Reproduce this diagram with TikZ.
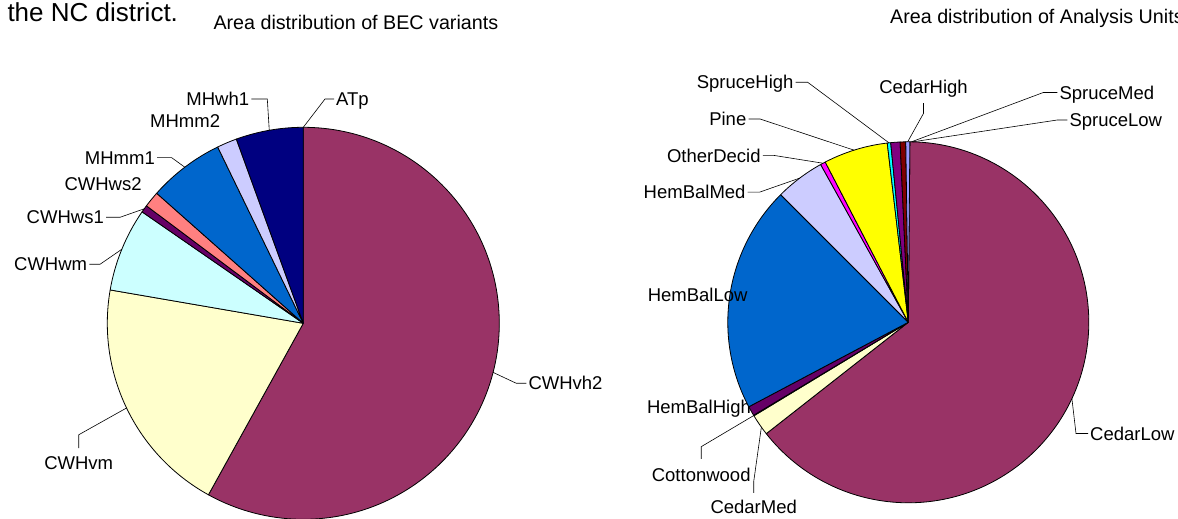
\documentclass[tikz,border=0pt]{standalone}
\usepackage{fontspec}
\setmainfont{Liberation Sans}
\usetikzlibrary{calc}

\definecolor{plum}{HTML}{993366}
\definecolor{paleyellow}{HTML}{FFFFCC}
\definecolor{palecyan}{HTML}{CCFFFF}
\definecolor{darkplum}{HTML}{660066}
\definecolor{salmon}{HTML}{FF8080}
\definecolor{midblue}{HTML}{0066CC}
\definecolor{lavender}{HTML}{CCCCFF}
\definecolor{navy}{HTML}{000080}
\definecolor{pinkish}{HTML}{FF00FF}
\definecolor{brightyellow}{HTML}{FFFF00}
\definecolor{brightcyan}{HTML}{00FFFF}
\definecolor{violet}{HTML}{800080}
\definecolor{deepred}{HTML}{800000}
\definecolor{periwinkle}{HTML}{9999FF}

\newcommand{\rA}{196pt}
\newcommand{\rB}{180.5pt}

\tikzset{
  lbl/.style={font=\fontsize{18.5}{20}\selectfont, inner xsep=2pt, inner ysep=2pt,
              text height=13.3pt, text depth=0pt},
  ttl/.style={font=\fontsize{19.7}{22}\selectfont, inner sep=0pt, anchor=base west},
  lead/.style={line width=0.6pt},
  wedge/.style={draw=black, line width=0.8pt, line join=round}
}

\begin{document}
\begin{tikzpicture}[x=1pt,y=1pt]
\useasboundingbox (0,0) rectangle (1178,519);
\clip (0,0) rectangle (1178,519);

% titles
\node[ttl, font=\fontsize{26}{30}\selectfont] (hdr) at (7.3,497.5) {the NC district.};
\node[ttl] (titleA) at (213.3,489.7) {Area distribution of BEC variants};
\node[ttl] (titleB) at (890,495) {Area distribution of Analysis Units};

% pie centres
\coordinate (ctrA) at (303.3,195.7);
\coordinate (ctrB) at (908.3,196.7);

% labels, left pie
\node[lbl, anchor=west] (lATp) at (334,420) {ATp};
\node[lbl, anchor=east] (lMHwh1) at (251.3,420) {MHwh1};
\node[lbl, anchor=west] (lMHmm2) at (148,397.9) {MHmm2};
\node[lbl, anchor=east] (lMHmm1) at (157,361.3) {MHmm1};
\node[lbl, anchor=west] (lCWHws2) at (62.3,335.6) {CWHws2};
\node[lbl, anchor=east] (lCWHws1) at (106,301.7) {CWHws1};
\node[lbl, anchor=east] (lCWHwm) at (89.3,254.7) {CWHwm};
\node[lbl, anchor=base] (lCWHvm) at (78.7,49) {CWHvm};
\node[lbl, anchor=west] (lCWHvh2) at (526.3,135.7) {CWHvh2};

% labels, right pie
\node[lbl, anchor=east] (lSpruceHigh) at (795.7,436.7) {SpruceHigh};
\node[lbl, anchor=base] (lCedarHigh) at (923.5,425.7) {CedarHigh};
\node[lbl, anchor=west] (lSpruceMed) at (1057.3,426.5) {SpruceMed};
\node[lbl, anchor=west] (lSpruceLow) at (1067.3,399) {SpruceLow};
\node[lbl, anchor=east] (lPine) at (748.5,400) {Pine};
\node[lbl, anchor=east] (lOtherDecid) at (762.8,363.6) {OtherDecid};
\node[lbl, anchor=east] (lHemBalMed) at (747.7,326.9) {HemBalMed};
\node[lbl, anchor=west] (lHemBalHigh) at (644.8,111.9) {HemBalHigh};
\node[lbl, anchor=base] (lCottonwood) at (701.2,37.9) {Cottonwood};
\node[lbl, anchor=base] (lCedarMed) at (753.7,5) {CedarMed};
\node[lbl, anchor=west] (lCedarLow) at (1088,85.5) {CedarLow};

% BEC variants
\filldraw[wedge, fill=plum] (ctrA) -- ++(90:\rA) arc[start angle=90, end angle=-118.95, radius=\rA] -- cycle;
\filldraw[wedge, fill=paleyellow] (ctrA) -- ++(241.05:\rA) arc[start angle=241.05, end angle=170.2, radius=\rA] -- cycle;
\filldraw[wedge, fill=palecyan] (ctrA) -- ++(170.2:\rA) arc[start angle=170.2, end angle=145.35, radius=\rA] -- cycle;
\filldraw[wedge, fill=darkplum] (ctrA) -- ++(145.35:\rA) arc[start angle=145.35, end angle=143.16, radius=\rA] -- cycle;
\filldraw[wedge, fill=salmon] (ctrA) -- ++(143.16:\rA) arc[start angle=143.16, end angle=138.43, radius=\rA] -- cycle;
\filldraw[wedge, fill=midblue] (ctrA) -- ++(138.43:\rA) arc[start angle=138.43, end angle=115.9, radius=\rA] -- cycle;
\filldraw[wedge, fill=lavender] (ctrA) -- ++(115.9:\rA) arc[start angle=115.9, end angle=109.97, radius=\rA] -- cycle;
\filldraw[wedge, fill=navy] (ctrA) -- ++(109.97:\rA) arc[start angle=109.97, end angle=90, radius=\rA] -- cycle;

% Analysis Units
\filldraw[wedge, fill=plum] (ctrB) -- ++(89.5:\rB) arc[start angle=89.5, end angle=-141.9, radius=\rB] -- cycle;
\filldraw[wedge, fill=paleyellow] (ctrB) -- ++(218.1:\rB) arc[start angle=218.1, end angle=211.2, radius=\rB] -- cycle;
\filldraw[wedge, fill=palecyan] (ctrB) -- ++(211.2:\rB) arc[start angle=211.2, end angle=211.0, radius=\rB] -- cycle;
\filldraw[wedge, fill=darkplum] (ctrB) -- ++(211.0:\rB) arc[start angle=211.0, end angle=207.9, radius=\rB] -- cycle;
\filldraw[wedge, fill=midblue] (ctrB) -- ++(207.9:\rB) arc[start angle=207.9, end angle=135, radius=\rB] -- cycle;
\filldraw[wedge, fill=lavender] (ctrB) -- ++(135:\rB) arc[start angle=135, end angle=119.05, radius=\rB] -- cycle;
\filldraw[wedge, fill=pinkish] (ctrB) -- ++(119.05:\rB) arc[start angle=119.05, end angle=117.4, radius=\rB] -- cycle;
\filldraw[wedge, fill=brightyellow] (ctrB) -- ++(117.4:\rB) arc[start angle=117.4, end angle=96.7, radius=\rB] -- cycle;
\filldraw[wedge, fill=brightcyan] (ctrB) -- ++(96.7:\rB) arc[start angle=96.7, end angle=95.6, radius=\rB] -- cycle;
\filldraw[wedge, fill=violet] (ctrB) -- ++(95.6:\rB) arc[start angle=95.6, end angle=92.6, radius=\rB] -- cycle;
\filldraw[wedge, fill=deepred] (ctrB) -- ++(92.6:\rB) arc[start angle=92.6, end angle=90.8, radius=\rB] -- cycle;
\filldraw[wedge, fill=periwinkle] (ctrB) -- ++(90.8:\rB) arc[start angle=90.8, end angle=89.5, radius=\rB] -- cycle;

% this one sits on top of the pie
\node[lbl, anchor=west] (lHemBalLow) at (645.6,223.9) {HemBalLow};

% leader ends on the rims
\coordinate (aATp) at ($(ctrA)+(90:\rA)$);
\coordinate (aMHwh1) at ($(ctrA)+(100:\rA)$);
\coordinate (aMHmm1) at ($(ctrA)+(127.2:\rA)$);
\coordinate (aCWHws1) at ($(ctrA)+(144.25:\rA)$);
\coordinate (aCWHwm) at ($(ctrA)+(157.8:\rA)$);
\coordinate (aCWHvm) at ($(ctrA)+(205.6:\rA)$);
\coordinate (aCWHvh2) at ($(ctrA)+(-14.5:\rA)$);
\coordinate (aSpruceHigh) at ($(ctrB)+(96.15:\rB)$);
\coordinate (aCedarHigh) at ($(ctrB)+(90.2:\rB)$);
\coordinate (aSpruceMed) at ($(ctrB)+(89:\rB)$);
\coordinate (aSpruceLow) at ($(ctrB)+(88.6:\rB)$);
\coordinate (aPine) at ($(ctrB)+(107.5:\rB)$);
\coordinate (aOtherDecid) at ($(ctrB)+(118.2:\rB)$);
\coordinate (aHemBalMed) at ($(ctrB)+(127:\rB)$);
\coordinate (aCottonwood) at ($(ctrB)+(211.1:\rB)$);
\coordinate (aCedarMed) at ($(ctrB)+(215.5:\rB)$);
\coordinate (aCedarLow) at ($(ctrB)+(-25:\rB)$);

% leaders
\draw[lead] (lATp.west) -- ++(-9,0) -- (aATp);
\draw[lead] (lMHwh1.east) -- ++(16,0) -- (aMHwh1);
\draw[lead] (lMHmm1.east) -- ++(14.7,0) -- (aMHmm1);
\draw[lead] (lCWHws1.east) -- ++(14,0) -- (aCWHws1);
\draw[lead] (lCWHwm.east) -- ++(10.7,0) -- (aCWHwm);
\draw[lead] ([yshift=6.4pt]lCWHvm.north) -- ++(0,13.3) -- (aCWHvm);
\draw[lead] (lCWHvh2.west) -- ++(-10,0) -- (aCWHvh2);
\draw[lead] (lSpruceHigh.east) -- ++(12,0) -- (aSpruceHigh);
\draw[lead] ([yshift=-7.6pt]lCedarHigh.south) -- ++(0,-10.3) -- (aCedarHigh);
\draw[lead] (lSpruceMed.west) -- ++(-14,0) -- (aSpruceMed);
\draw[lead] (lSpruceLow.west) -- ++(-10,0) -- (aSpruceLow);
\draw[lead] (lPine.east) -- ++(11.6,0) -- (aPine);
\draw[lead] (lOtherDecid.east) -- ++(11,0) -- (aOtherDecid);
\draw[lead] (lHemBalMed.east) -- ++(12,0) -- (aHemBalMed);
\draw[lead] ([yshift=6.7pt]lCottonwood.north) -- ++(0,12.2) -- (aCottonwood);
\draw[lead] ([yshift=5.7pt]lCedarMed.north) -- ++(0,11.2) -- (aCedarMed);
\draw[lead] (lCedarLow.west) -- ++(-12,0) -- (aCedarLow);
\end{tikzpicture}
\end{document}
